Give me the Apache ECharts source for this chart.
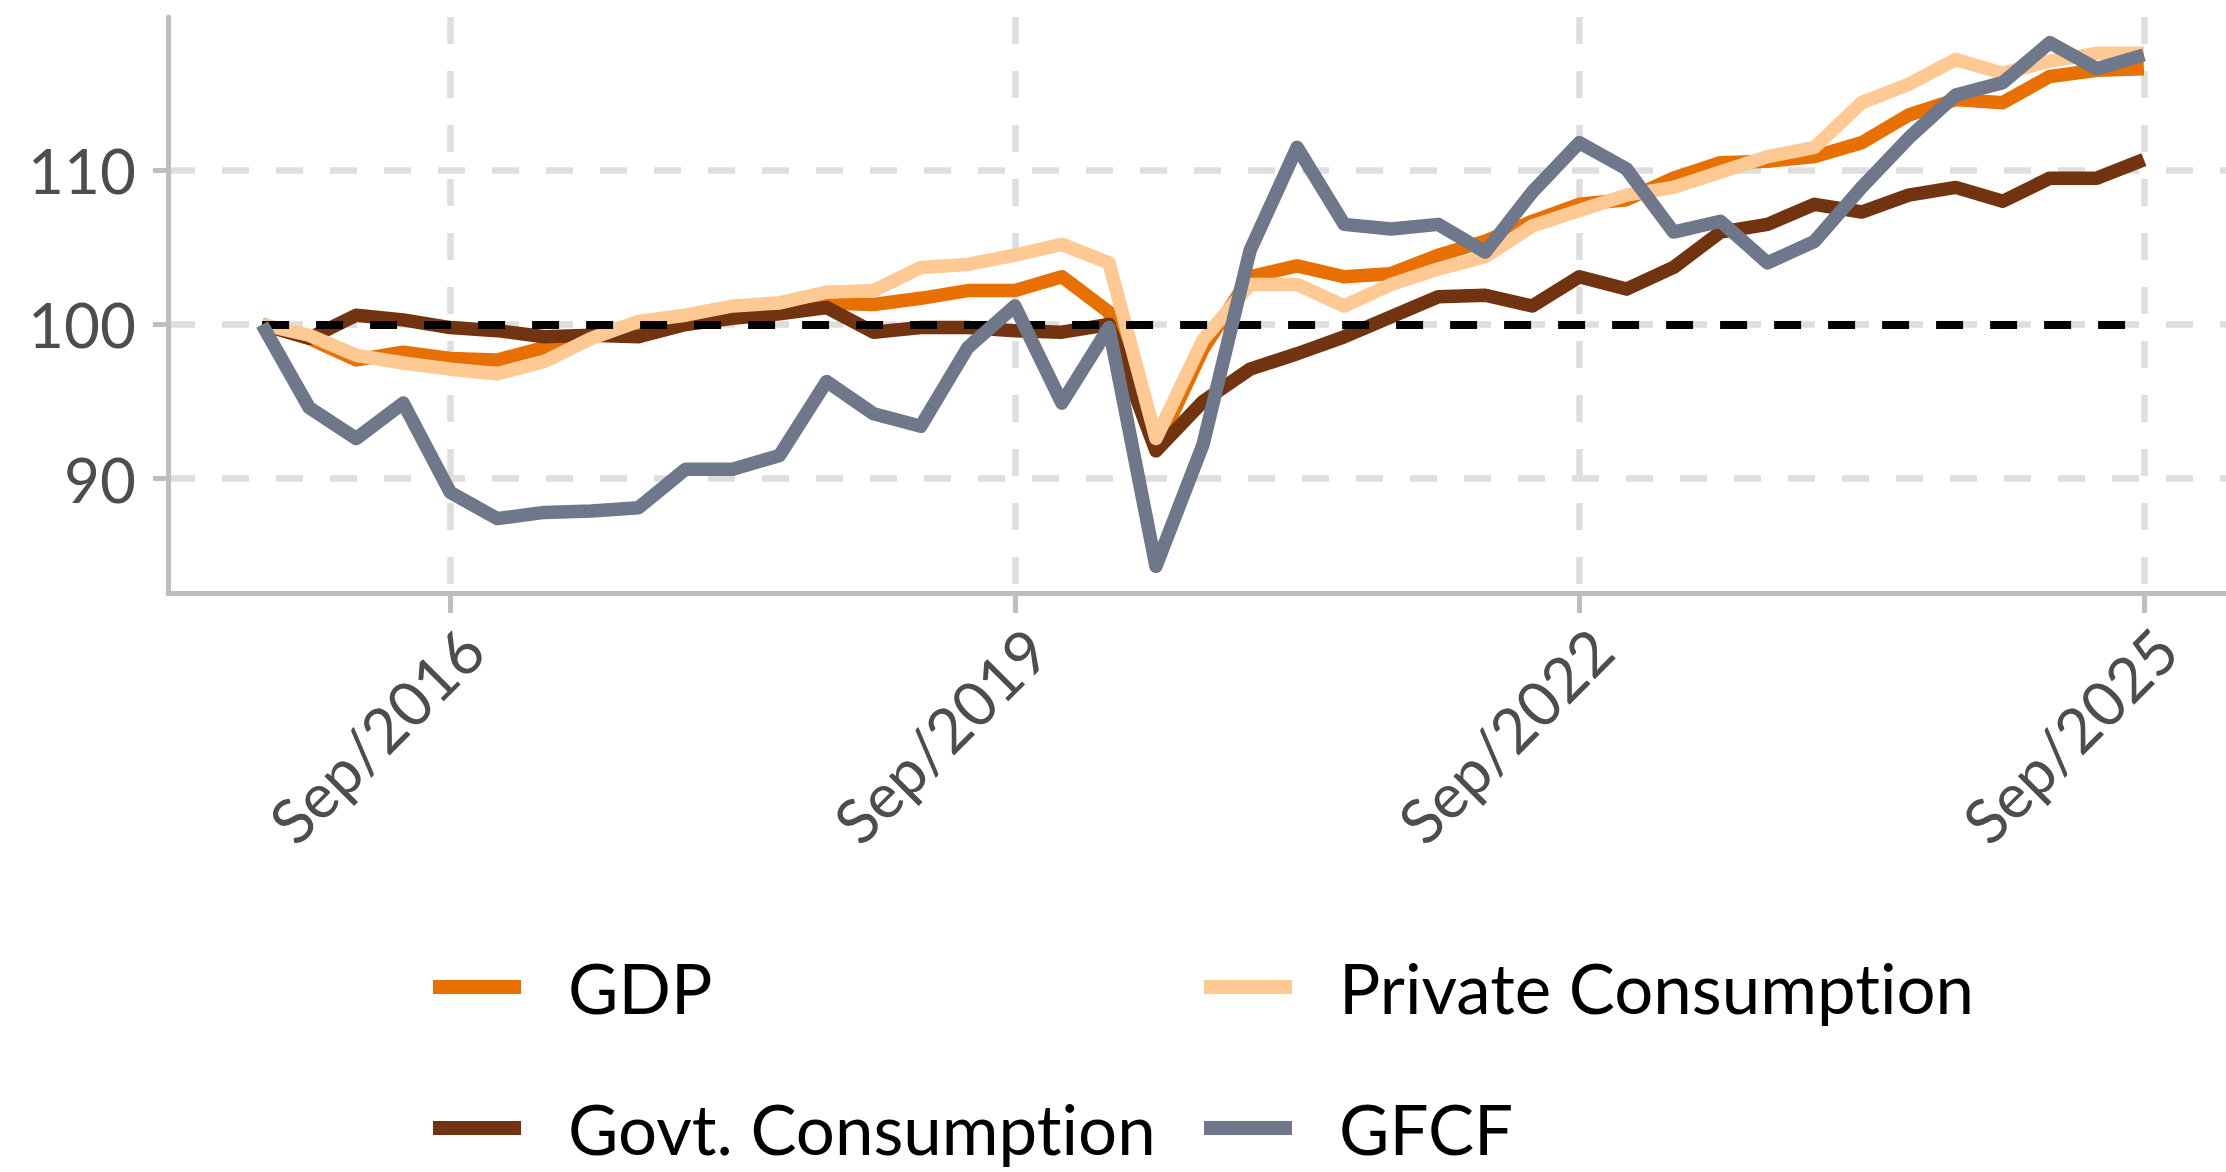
<!DOCTYPE html>
<html>
<head>
<meta charset="utf-8">
<script src="https://cdn.jsdelivr.net/npm/echarts@6/dist/echarts.min.js"></script>
<style>
  html, body { margin: 0; padding: 0; background: #fff; }
  #chart { width: 2226px; height: 1172px; }
  #chart text { font-variant-ligatures: none; }
</style>
</head>
<body>
<div id="chart"></div>
<script>
// quarterly index, Sep/2015 = 100
const quarters = [
  'Sep/2015', 'Dec/2015', 'Mar/2016', 'Jun/2016', 'Sep/2016', 'Dec/2016',
  'Mar/2017', 'Jun/2017', 'Sep/2017', 'Dec/2017', 'Mar/2018', 'Jun/2018',
  'Sep/2018', 'Dec/2018', 'Mar/2019', 'Jun/2019', 'Sep/2019', 'Dec/2019',
  'Mar/2020', 'Jun/2020', 'Sep/2020', 'Dec/2020', 'Mar/2021', 'Jun/2021',
  'Sep/2021', 'Dec/2021', 'Mar/2022', 'Jun/2022', 'Sep/2022', 'Dec/2022',
  'Mar/2023', 'Jun/2023', 'Sep/2023', 'Dec/2023', 'Mar/2024', 'Jun/2024',
  'Sep/2024', 'Dec/2024', 'Mar/2025', 'Jun/2025', 'Sep/2025'
];

const gdp = [
  100, 99.1, 97.7, 98.2, 97.8, 97.7, 98.5, 99.3, 100.0, 100.4,
  100.7, 100.9, 101.4, 101.3, 101.7, 102.2, 102.2, 103.1, 100.8, 91.9,
  98.4, 103.1, 103.8, 103.1, 103.3, 104.5, 105.4, 106.7, 107.8, 108.1,
  109.5, 110.5, 110.6, 110.9, 111.8, 113.6, 114.6, 114.4, 116.1, 116.5,
  116.6
];
const privateCons = [
  100, 99.3, 98.0, 97.5, 97.1, 96.8, 97.6, 99.1, 100.2, 100.6,
  101.2, 101.4, 102.1, 102.2, 103.7, 103.9, 104.5, 105.2, 104.0, 92.6,
  99.0, 102.6, 102.6, 101.2, 102.6, 103.6, 104.4, 106.4, 107.4, 108.4,
  108.9, 109.9, 110.9, 111.5, 114.4, 115.6, 117.2, 116.3, 117.1, 117.6,
  117.6
];
const govtCons = [
  100, 99.1, 100.6, 100.3, 99.8, 99.6, 99.2, 99.3, 99.2, 100.0,
  100.4, 100.7, 101.1, 99.5, 99.8, 99.8, 99.6, 99.5, 100.0, 91.8,
  95.0, 97.1, 98.1, 99.2, 100.5, 101.8, 101.9, 101.2, 103.1, 102.3,
  103.7, 106.0, 106.5, 107.8, 107.3, 108.4, 108.9, 108.0, 109.5, 109.5,
  110.7
];
const gfcf = [
  100, 94.6, 92.6, 94.9, 89.1, 87.4, 87.8, 87.9, 88.1, 90.6,
  90.6, 91.5, 96.3, 94.2, 93.4, 98.5, 101.2, 94.9, 99.8, 84.3,
  92.2, 104.8, 111.5, 106.5, 106.2, 106.5, 104.7, 108.6, 111.8, 110.1,
  106.0, 106.7, 104.0, 105.4, 108.9, 112.1, 114.9, 115.7, 118.3, 116.6,
  117.5
];

const tickLabels = ['Sep/2016', 'Sep/2019', 'Sep/2022', 'Sep/2025'];
const yTicks = [90, 100, 110];
const baseline = 100;

const chart = echarts.init(document.getElementById('chart'), null, { renderer: 'svg' });

const xTicks = tickLabels.map(l => quarters.indexOf(l));
const toPoints = arr => arr.map((v, i) => [i, v]);

function legendItem(name, left, top) {
  return {
    data: [name],
    left: left,
    top: top,
    padding: 0,
    icon: 'rect',
    itemWidth: 88,
    itemHeight: 14,
    textStyle: {
      fontFamily: 'Lato',
      fontSize: 69,
      lineHeight: 70,
      color: '#000',
      padding: [0, 0, 0, 42]
    }
  };
}

function lineSeries(name, arr, color, z) {
  return {
    name: name,
    type: 'line',
    data: toPoints(arr),
    showSymbol: false,
    symbol: 'none',
    z: z,
    lineStyle: { color: color, width: 13.5, join: 'round', cap: 'butt' },
    itemStyle: { color: color }
  };
}

var gridLine = { show: true, lineStyle: { color: '#DEDEDE', width: 6.5, type: [27, 27] } };

var option = {
  animation: false,
  backgroundColor: '#fff',
  grid: {
    left: 168,
    right: -12,
    top: 17,
    bottom: 579,
    outerBoundsMode: 'none'
  },
  legend: [
    legendItem('GDP', 433, 952),
    legendItem('Private Consumption', 1204, 952),
    legendItem('Govt. Consumption', 433, 1093),
    legendItem('GFCF', 1204, 1093)
  ],
  xAxis: {
    type: 'value',
    min: -2,
    max: 42,
    axisLine: { show: true, onZero: false, lineStyle: { color: '#BEBEBE', width: 5 } },
    axisTick: { show: true, length: 20, customValues: xTicks, lineStyle: { color: '#BEBEBE', width: 5 } },
    axisLabel: {
      customValues: xTicks,
      formatter: v => quarters[v],
      rotate: 45,
      align: 'right',
      verticalAlign: 'top',
      margin: 24,
      fontFamily: 'Lato',
      fontSize: 62,
      color: '#4D4D4D'
    },
    splitLine: gridLine
  },
  yAxis: {
    type: 'value',
    min: 82.57,
    max: 119.96,
    axisLine: { show: true, onZero: false, lineStyle: { color: '#BEBEBE', width: 5 } },
    axisTick: { show: true, length: 15, customValues: yTicks, lineStyle: { color: '#BEBEBE', width: 5 } },
    axisLabel: {
      customValues: yTicks,
      margin: 32,
      fontFamily: 'Lato',
      fontSize: 62,
      color: '#4D4D4D'
    },
    splitLine: gridLine
  },
  series: [
    lineSeries('GDP', gdp, '#E87000', 2),
    lineSeries('Private Consumption', privateCons, '#FFC994', 4),
    lineSeries('Govt. Consumption', govtCons, '#723410', 3),
    lineSeries('GFCF', gfcf, '#6E788A', 5),
    {
      name: 'baseline',
      type: 'line',
      data: [],
      z: 6,
      markLine: {
        silent: true,
        symbol: ['none', 'none'],
        label: { show: false },
        lineStyle: { color: '#000', width: 8, type: [27, 27] },
        data: [[{ coord: [0, baseline] }, { coord: [quarters.length - 1, baseline] }]]
      }
    }
  ]
};

chart.setOption(option);
</script>
</body>
</html>
